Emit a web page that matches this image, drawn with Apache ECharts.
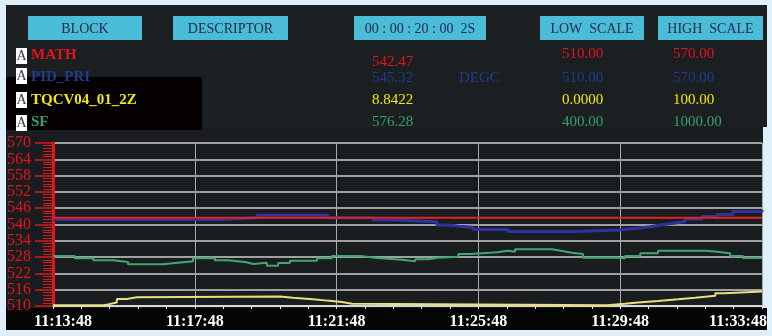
<!DOCTYPE html>
<html lang="en">
<head>
<meta charset="UTF-8">
<title>Trend</title>
<script src="https://cdn.jsdelivr.net/npm/echarts@6/dist/echarts.min.js"></script>
<style>
  html, body { margin: 0; padding: 0; background: #dff0fb; }
  #main { width: 772px; height: 336px; }
</style>
</head>
<body>
<div id="main"></div>
<script>
    // header / tag table
    var headers = ['BLOCK', 'DESCRIPTOR', '00 : 00 : 20 : 00  2S', 'LOW  SCALE', 'HIGH  SCALE'];
    var tagNames = ['MATH', 'PID_PRI', 'TQCV04_01_2Z', 'SF'];
    var tagValues = ['542.47', '545.32', '8.8422', '576.28'];
    var tagUnits = ['', 'DEGC', '', ''];
    var lowScales = ['510.00', '510.00', '0.0000', '400.00'];
    var highScales = ['570.00', '570.00', '100.00', '1000.00'];

    // time axis: seconds from 11:13:48
    var startSec = 11 * 3600 + 13 * 60 + 48;
    var timeSpan = 1200;

    // series [second, value]
    var mathData = [[0, 542.47], [1200, 542.47]];
    var pidData = [[0, 541.8], [286, 542.5], [345, 543.4], [465, 542.5], [542, 541.7], [579, 541.0],
        [650, 539.8], [669, 539.4], [686, 539.0], [711, 538.2], [770, 537.4], [884, 538.0], [956, 538.6],
        [990, 539.2], [1010, 539.8], [1027, 540.4], [1048, 541.0], [1070, 542.0], [1099, 542.9],
        [1124, 543.7], [1151, 544.8], [1200, 545.32]];
    var tqcvData = [[0, 0.5], [85, 1.0], [93, 2.2], [108, 4.3], [125, 5.3], [142, 5.9], [384, 5.1],
        [406, 4.1], [440, 3.3], [464, 2.5], [489, 1.4], [506, 0.5], [938, 1.4], [968, 2.2], [990, 3.1],
        [1024, 4.1], [1058, 5.1], [1087, 6.3], [1121, 7.8], [1137, 8.84], [1200, 8.84]];
    var sfData = [[0, 584.0], [37, 575.5], [68, 568.1], [102, 561.9], [127, 553.4], [186, 558.3],
        [207, 564.4], [237, 575.5], [274, 568.1], [296, 561.9], [325, 554.6], [339, 559.5], [362, 548.4],
        [381, 558.3], [401, 566.9], [447, 575.5], [472, 584.0], [520, 576.7], [548, 570.6], [591, 564.4],
        [613, 571.8], [635, 577.9], [652, 581.6], [686, 591.4], [706, 597.5], [752, 603.7], [770, 600.0],
        [782, 608.6], [845, 602.5], [862, 596.3], [878, 591.4], [897, 577.9], [956, 575.5], [968, 584.0],
        [994, 593.9], [1024, 603.7], [1104, 600.0], [1124, 593.9], [1146, 584.0], [1168, 576.28],
        [1200, 576.28]];

    var tagColors = ['#e8121c', '#1f3a92', '#f2ea00', '#35a06c'];
    var lineColors = ['#e5231f', '#2f33a0', '#e8e07a', '#3fa872'];
    var serif = '"Liberation Serif", "DejaVu Serif", serif';

    function fmtTime(v) {
        var s = startSec + v;
        var h = Math.floor(s / 3600), m = Math.floor(s % 3600 / 60), sec = s % 60;
        return h + ':' + (m < 10 ? '0' : '') + m + ':' + (sec < 10 ? '0' : '') + sec;
    }

    // background panels and the tag table
    var gfx = [];
    gfx.push({type: 'rect', z: -10, shape: {x: 6, y: 5, width: 761, height: 122}, style: {fill: '#1c1f21'}});
    gfx.push({type: 'rect', z: -10, shape: {x: 6, y: 127, width: 757, height: 182}, style: {fill: '#1a1d1f'}});
    gfx.push({type: 'rect', z: -9, shape: {x: 6, y: 308, width: 761, height: 22}, style: {fill: '#050505'}});
    gfx.push({type: 'rect', z: -9, shape: {x: 6, y: 77, width: 196, height: 53}, style: {fill: '#050101'}});

    var boxX = [[28, 142], [173, 288], [354, 486], [540, 644], [658, 763]];
    headers.forEach(function (h, i) {
        gfx.push({type: 'rect', z: 1, shape: {x: boxX[i][0], y: 16, width: boxX[i][1] - boxX[i][0], height: 24},
            style: {fill: '#4bbcd8'}});
        gfx.push({type: 'text', z: 2, x: (boxX[i][0] + boxX[i][1]) / 2, y: 29,
            style: {text: h, fill: '#1d2a48', font: '14px ' + serif, textAlign: 'center', textVerticalAlign: 'middle'}});
    });

    var rowY = [55, 77, 100, 122];
    var boxY = [48, 68, 92, 115];
    var valY = [62, 78, 100, 122];
    var scaleY = [54, 78, 100, 122];
    tagNames.forEach(function (n, i) {
        gfx.push({type: 'rect', z: 1, shape: {x: 16, y: boxY[i], width: 11, height: 16}, style: {fill: '#ffffff'}});
        gfx.push({type: 'text', z: 2, x: 21.5, y: boxY[i] + 8.5,
            style: {text: 'A', fill: '#3a3550', font: '14px ' + serif, textAlign: 'center', textVerticalAlign: 'middle'}});
        gfx.push({type: 'text', z: 2, x: 31, y: rowY[i],
            style: {text: n, fill: tagColors[i], font: 'bold 15px ' + serif, textVerticalAlign: 'middle'}});
        gfx.push({type: 'text', z: 2, x: 372, y: valY[i],
            style: {text: tagValues[i], fill: tagColors[i], font: '15px ' + serif, textVerticalAlign: 'middle'}});
        if (tagUnits[i]) {
            gfx.push({type: 'text', z: 2, x: 459, y: valY[i],
                style: {text: tagUnits[i], fill: tagColors[i], font: '15px ' + serif, textVerticalAlign: 'middle'}});
        }
        gfx.push({type: 'text', z: 2, x: 562, y: scaleY[i],
            style: {text: lowScales[i], fill: tagColors[i], font: '15px ' + serif, textVerticalAlign: 'middle'}});
        gfx.push({type: 'text', z: 2, x: 673, y: scaleY[i],
            style: {text: highScales[i], fill: tagColors[i], font: '15px ' + serif, textVerticalAlign: 'middle'}});
    });

    var labelStyle = {color: '#ffffff', fontSize: 16, fontWeight: 'bold', fontFamily: serif};

    var option = {
        backgroundColor: '#dff0fb',
        animation: false,
        graphic: {elements: gfx},
        grid: {left: 53, right: 10, top: 143, bottom: 30, containLabel: false},
        xAxis: {
            type: 'value', min: 0, max: timeSpan, interval: 240, offset: 5,
            axisLine: {show: true, lineStyle: {color: '#e6e6e6', width: 1.5}},
            axisTick: {show: true, length: 3, lineStyle: {color: '#e6e6e6'}},
            minorTick: {show: true, splitNumber: 5, length: 3, lineStyle: {color: '#e6e6e6'}},
            splitLine: {show: true, lineStyle: {color: '#a8a8a8', width: 1}},
            axisLabel: {
                margin: 3, showMinLabel: true, showMaxLabel: true,
                color: '#ffffff', fontSize: 16, fontWeight: 'bold', fontFamily: serif,
                formatter: function (v) {
                    if (v === 0) return '{first|' + fmtTime(v) + '}';
                    if (v === timeSpan) return '{last|' + fmtTime(v) + '}';
                    return fmtTime(v);
                },
                rich: {
                    first: Object.assign({padding: [0, 0, 0, 20]}, labelStyle),
                    last: Object.assign({padding: [0, 48, 0, 0]}, labelStyle)
                }
            }
        },
        yAxis: [
            {
                type: 'value', min: 510, max: 570, interval: 6, position: 'left', offset: 3,
                axisLine: {show: true, lineStyle: {color: '#e0141a', width: 3}},
                axisTick: {show: true, length: 18, lineStyle: {color: '#e0141a', width: 1.5}},
                minorTick: {show: true, splitNumber: 6, length: 10, lineStyle: {color: '#e0141a', width: 1}},
                splitLine: {show: true, lineStyle: {color: '#a0a0a0', width: 2}},
                axisLabel: {margin: 19, color: '#e0141a', fontSize: 16, fontFamily: serif}
            },
            {type: 'value', min: 400, max: 1000, show: false},
            {type: 'value', min: 0, max: 100, show: false}
        ],
        series: [
            {name: 'SF', type: 'line', step: 'end', yAxisIndex: 1, data: sfData, symbol: 'none',
                lineStyle: {color: lineColors[3], width: 2}},
            {name: 'TQCV04_01_2Z', type: 'line', step: 'end', yAxisIndex: 2, data: tqcvData, symbol: 'none',
                lineStyle: {color: lineColors[2], width: 2}},
            {name: 'PID_PRI', type: 'line', step: 'end', yAxisIndex: 0, data: pidData, symbol: 'none',
                lineStyle: {color: lineColors[1], width: 3}},
            {name: 'MATH', type: 'line', step: 'end', yAxisIndex: 0, data: mathData, symbol: 'none',
                lineStyle: {color: lineColors[0], width: 2}}
        ]
    };

    var myChart = echarts.init(document.getElementById('main'));
    myChart.setOption(option);
</script>
</body>
</html>
